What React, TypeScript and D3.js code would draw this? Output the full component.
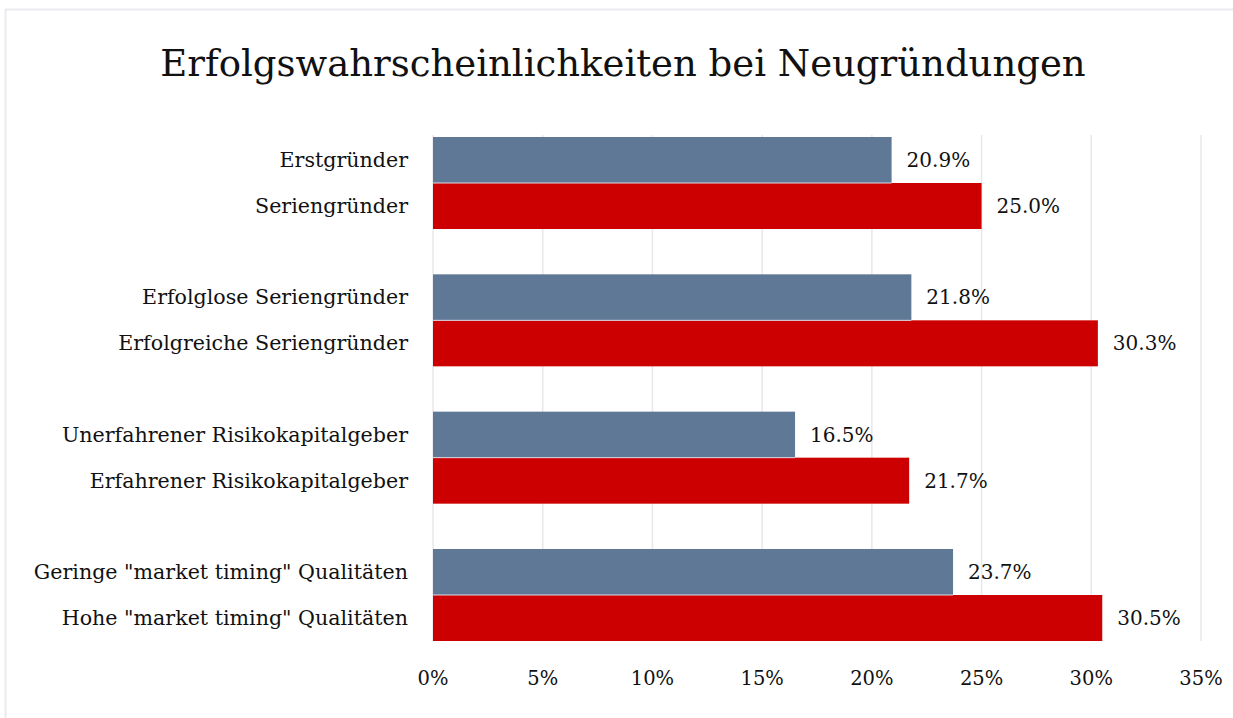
import React from "react";
import * as d3 from "d3";

const groups = ["g1", "g2", "g3", "g4"];
const topLabels = [
  "Erstgründer",
  "Erfolglose Seriengründer",
  "Unerfahrener Risikokapitalgeber",
  'Geringe "market timing" Qualitäten',
];
const bottomLabels = [
  "Seriengründer",
  "Erfolgreiche Seriengründer",
  "Erfahrener Risikokapitalgeber",
  'Hohe "market timing" Qualitäten',
];
const topValues = [20.9, 21.8, 16.5, 23.7];
const bottomValues = [25.0, 30.3, 21.7, 30.5];
const xTicks = [0, 5, 10, 15, 20, 25, 30, 35];
const title = "Erfolgswahrscheinlichkeiten bei Neugründungen";

const W = 1233;
const H = 718;
const FONT = "'DejaVu Serif', 'Liberation Serif', serif";
const BLUE = "#5f7896";
const RED = "#cc0000";

export default function App() {
  const x = d3.scaleLinear().domain([0, 35]).range([433, 1201]);
  const y = d3
    .scaleBand<string>()
    .domain(groups)
    .range([137, 641])
    .paddingInner(0.33)
    .paddingOuter(0);
  const bw = y.bandwidth() / 2;
  const fmt = (v: number) => v.toFixed(1) + "%";

  return (
    <svg
      width={W}
      height={H}
      style={{ position: "absolute", left: 0, top: 0, background: "#fff" }}
      fontFamily={FONT}
    >
      <rect x={5.5} y={9.5} width={W + 10} height={H + 10} fill="#fff" stroke="#ebebef" strokeWidth={2} />
      <text x={623} y={76} textAnchor="middle" fontSize={37} fill="#111">
        {title}
      </text>
      {xTicks.map((t) => (
        <line key={t} x1={x(t)} x2={x(t)} y1={135} y2={641} stroke="#e8e8ec" strokeWidth={1.5} />
      ))}
      {groups.map((g, i) => {
        const y0 = y(g) as number;
        return (
          <g key={g}>
            <rect x={x(0)} y={y0} width={x(topValues[i]) - x(0)} height={bw} fill={BLUE} />
            <rect x={x(0)} y={y0 + bw} width={x(bottomValues[i]) - x(0)} height={bw} fill={RED} />
            <line x1={x(0)} x2={x(topValues[i])} y1={y0 + bw} y2={y0 + bw} stroke="#d8dde6" strokeWidth={1} />
            <text x={x(topValues[i]) + 15} y={y0 + bw / 2 + 7} fontSize={20} fill="#111">
              {fmt(topValues[i])}
            </text>
            <text x={x(bottomValues[i]) + 15} y={y0 + bw + bw / 2 + 7} fontSize={20} fill="#111">
              {fmt(bottomValues[i])}
            </text>
            <text x={408} y={y0 + bw / 2 + 7} fontSize={20.6} textAnchor="end" fill="#111">
              {topLabels[i]}
            </text>
            <text x={408} y={y0 + bw + bw / 2 + 7} fontSize={20.6} textAnchor="end" fill="#111">
              {bottomLabels[i]}
            </text>
          </g>
        );
      })}
      {xTicks.map((t) => (
        <text key={t} x={x(t)} y={685} textAnchor="middle" fontSize={19.5} fill="#111">
          {t + "%"}
        </text>
      ))}
    </svg>
  );
}
